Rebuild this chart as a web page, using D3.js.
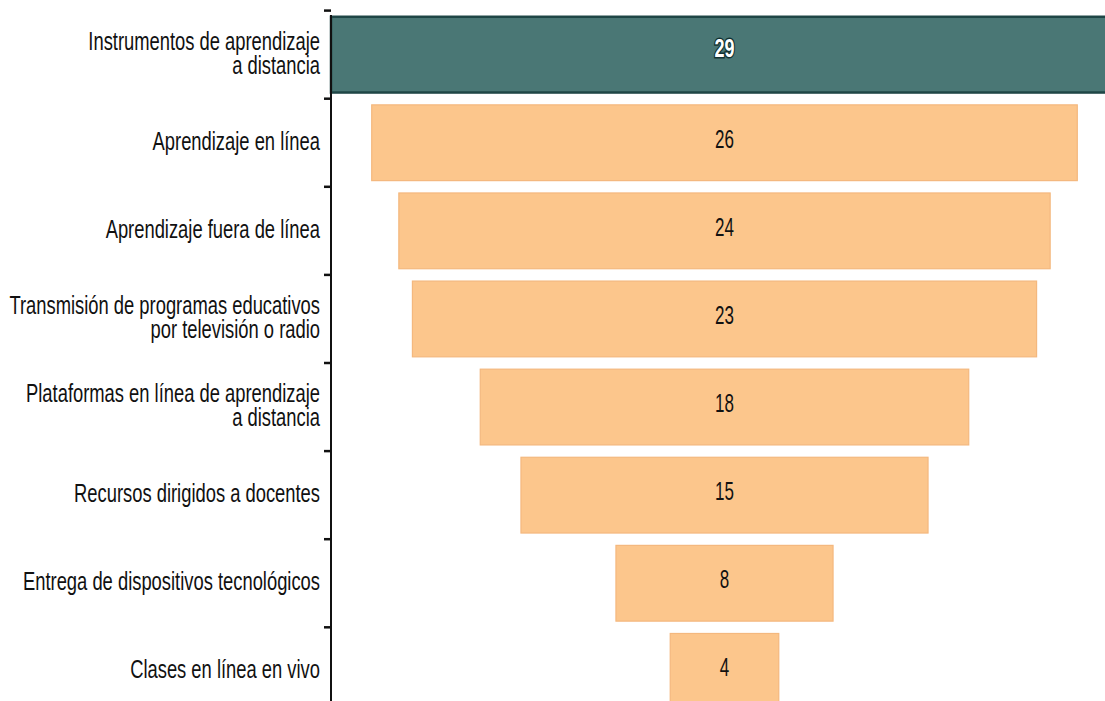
<!DOCTYPE html>
<html>
<head>
<meta charset="utf-8">
<script src="https://cdn.jsdelivr.net/npm/d3@7"></script>
<style>
  body { margin: 0; background: #fff; }
  svg { display: block; }
  text { font-family: "Liberation Sans Narrow", "Liberation Sans", Arial, sans-serif; }
</style>
</head>
<body>
<svg id="chart" width="1105" height="701"></svg>
<script>
// categories (top to bottom), each label split into its lines
var categories = [
  ["Instrumentos de aprendizaje", "a distancia"],
  ["Aprendizaje en línea"],
  ["Aprendizaje fuera de línea"],
  ["Transmisión de programas educativos", "por televisión o radio"],
  ["Plataformas en línea de aprendizaje", "a distancia"],
  ["Recursos dirigidos a docentes"],
  ["Entrega de dispositivos tecnológicos"],
  ["Clases en línea en vivo"]
];
var values = [29, 26, 24, 23, 18, 15, 8, 4];

var svg = d3.select("#chart");
var axisX = 331;
var labelSx = 0.735;  // squeeze to get the condensed look
var valueSx = 0.68;

var y = d3.scaleBand()
  .domain(d3.range(values.length))
  .range([15, 711])
  .paddingInner(0.14)
  .paddingOuter(0.02);

// centred funnel
var x = d3.scaleLinear()
  .domain([-d3.max(values), d3.max(values)])
  .range([axisX, axisX + 787]);

// Bars
svg.selectAll("rect.bar")
  .data(values)
  .enter()
  .append("rect")
    .attr("class", "bar")
    .attr("x", d => x(-d))
    .attr("width", d => x(d) - x(-d))
    .attr("y", (d, i) => y(i))
    .attr("height", y.bandwidth())
    .attr("fill", (d, i) => i == 0 ? "#4a7775" : "#fcc68c")
    .attr("stroke", (d, i) => i == 0 ? "#1f4646" : "#f4b87e")
    .attr("stroke-width", (d, i) => i == 0 ? 2.5 : 1.2);

// Value labels
svg.selectAll("text.value")
  .data(values)
  .enter()
  .append("text")
    .attr("class", "value")
    .attr("transform", (d, i) => "translate(" + x(0) + "," + (y(i) + y.bandwidth() / 2 + (i == 0 ? 2 : 5)) + ") scale(" + (i == 0 ? 0.72 : valueSx) + ",1)")
    .attr("text-anchor", "middle")
    .attr("font-size", 25)
    .attr("font-weight", (d, i) => i == 0 ? "bold" : "normal")
    .attr("fill", (d, i) => i == 0 ? "#fff" : "#111")
    .attr("stroke", (d, i) => i == 0 ? "#123232" : "none")
    .attr("stroke-width", 3)
    .attr("paint-order", "stroke")
    .text(d => d);

// Axis line on the left with ticks at band edges
var axis = d3.axisLeft(y).tickSize(0).tickFormat("");
svg.append("g")
  .attr("transform", "translate(" + axisX + ",0)")
  .call(axis)
  .call(g => g.select(".domain").attr("stroke", "#111").attr("stroke-width", 2).attr("d", "M0,15V701"));

var edges = d3.range(values.length).map(i => y(i) - y.step() * y.paddingInner() / 2);
svg.selectAll("line.tick")
  .data(edges)
  .enter()
  .append("line")
    .attr("class", "tick")
    .attr("x1", axisX - 7)
    .attr("x2", axisX)
    .attr("y1", d => d)
    .attr("y2", d => d)
    .attr("stroke", "#111")
    .attr("stroke-width", 2.5);

// Category labels
var lineH = 24;
var lab = svg.selectAll("g.label")
  .data(categories)
  .enter()
  .append("g")
    .attr("class", "label")
    .attr("transform", (d, i) => {
      var cy = y(i) + y.bandwidth() / 2 + 7 - (d.length - 1) * lineH / 2;
      return "translate(320," + cy + ") scale(" + labelSx + ",1)";
    });

lab.selectAll("text")
  .data(d => d)
  .enter()
  .append("text")
    .attr("y", (d, j) => j * lineH)
    .attr("text-anchor", "end")
    .attr("font-size", 25)
    .attr("fill", "#111")
    .text(d => d);
</script>
</body>
</html>
